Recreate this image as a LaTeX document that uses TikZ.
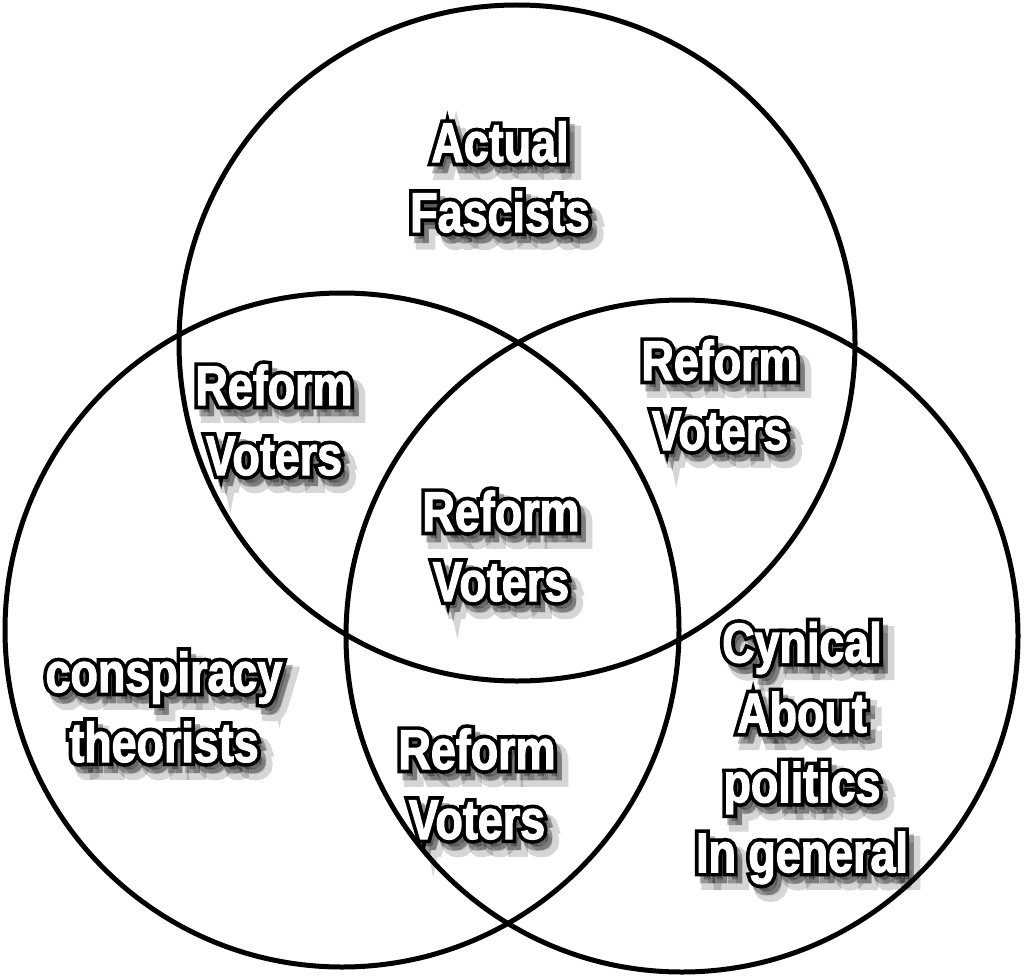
\documentclass[tikz,border=0pt]{standalone}
\usepackage{fontspec}
\newfontfamily\memefill{Liberation Sans Bold}[FakeStretch=0.8,FakeBold=2]
\newfontfamily\memeline{Liberation Sans Bold}[FakeStretch=0.8,FakeBold=15]
\newfontfamily\memeshade{Liberation Sans Bold}[FakeStretch=0.8,FakeBold=24]
\tikzset{
  ring/.style={draw=black, line width=0.1cm},
  txtbase/.style={align=center, inner sep=0pt},
  filltxt/.style={txtbase, text=white, font=\memefill\fontsize{31.9}{39.8}\selectfont},
  linetxt/.style={txtbase, text=black, font=\memeline\fontsize{31.9}{39.8}\selectfont},
  shadetxt/.style={txtbase, text=black, text opacity=0.16, font=\memeshade\fontsize{31.9}{39.8}\selectfont},
  shadetxtb/.style={txtbase, text=black, text opacity=0.3, font=\memeline\fontsize{31.9}{39.8}\selectfont},
}
\newcommand\memelabel[3]{%
  \node[shadetxt] (#1-s) at ([shift={(9,11)}]#2) {#3};
  \node[shadetxtb] (#1-t) at ([shift={(5,7)}]#2) {#3};
  \node[linetxt] (#1-o) at (#2) {#3};
  \node[filltxt] (#1) at (#2) {#3};
}
\begin{document}
\begin{tikzpicture}[x=0.02cm, y=-0.02cm]
  \useasboundingbox (0,0) rectangle (1024,980);
  \fill[white] (0,0) rectangle (1024,980);
  \coordinate (ctop) at (517,343);
  \coordinate (cleft) at (342,630);
  \coordinate (cright) at (682,636);
  \draw[ring] (ctop) circle[radius=338];
  \draw[ring] (cleft) circle[radius=337];
  \draw[ring] (cright) circle[radius=336];
  \memelabel{fascists}{500,177}{Actual\\Fascists}
  \memelabel{reformL}{274,420}{Reform\\Voters}
  \memelabel{reformR}{720,395}{Reform\\Voters}
  \memelabel{reformC}{501,546}{Reform\\Voters}
  \memelabel{conspiracy}{164,707}{conspiracy\\theorists}
  \memelabel{reformB}{477,784}{Reform\\Voters}
  \memelabel{cynical}{802,753}{Cynical\\About\\politics\\In general}
\end{tikzpicture}
\end{document}
